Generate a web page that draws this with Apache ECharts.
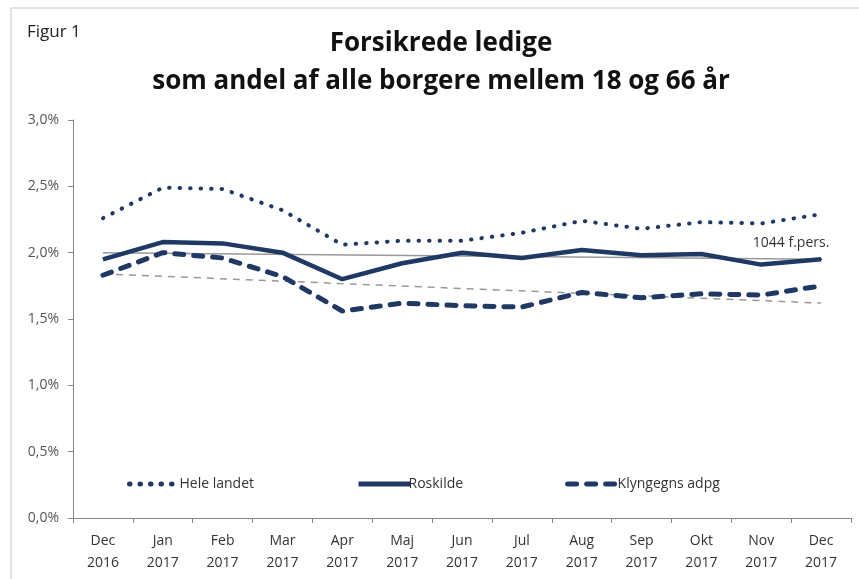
<!doctype html>
<html lang="da">
<head>
    <meta charset="UTF-8">
    <title>Figur 1</title>
    <style>
        html, body { margin: 0; padding: 0; background: #fff; }
    </style>
</head>
<body>
    <div id="main" style="width: 859px;height:579px;"></div>
    <script src="https://cdn.jsdelivr.net/npm/echarts@6/dist/echarts.min.js"></script>
    <script>
        // kategorier (måneder)
        var months = ['Dec\n2016', 'Jan\n2017', 'Feb\n2017', 'Mar\n2017', 'Apr\n2017', 'Maj\n2017', 'Jun\n2017',
            'Jul\n2017', 'Aug\n2017', 'Sep\n2017', 'Okt\n2017', 'Nov\n2017', 'Dec\n2017'];

        // andel i procent
        var heleLandet = [2.26, 2.49, 2.48, 2.32, 2.06, 2.09, 2.09, 2.15, 2.24, 2.18, 2.23, 2.22, 2.29];
        var roskilde = [1.95, 2.08, 2.07, 2.00, 1.80, 1.92, 2.00, 1.96, 2.02, 1.98, 1.99, 1.91, 1.95];
        var klynge = [1.83, 2.00, 1.96, 1.82, 1.56, 1.62, 1.60, 1.59, 1.70, 1.66, 1.69, 1.68, 1.75];

        // tendenslinjer (start og slut)
        var trendRoskilde = [2.00, 1.95];
        var trendKlynge = [1.84, 1.62];

        var yTicks = [0, 0.5, 1.0, 1.5, 2.0, 2.5, 3.0];

        function trend(ends) {
            var d = months.map(function () { return null; });
            d[0] = ends[0];
            d[d.length - 1] = ends[1];
            return d;
        }

        var navy = '#1f3864';
        var font = '"Open Sans", "Noto Sans", sans-serif';

        var roskildeData = roskilde.map(function (v, i) {
            if (i === roskilde.length - 1) {
                return {
                    value: v,
                    symbol: 'circle',
                    symbolSize: 2,
                    label: {
                        show: true, position: 'top', offset: [-30, -3],
                        formatter: '1044 f.pers.', color: '#333', fontSize: 14, fontFamily: font
                    }
                };
            }
            return v;
        });

        var myChart = echarts.init(document.getElementById('main'));

        var option = {
            backgroundColor: '#fff',
            animation: false,
            textStyle: { fontFamily: font },
            graphic: [
                {
                    type: 'rect', shape: { x: 11, y: 8, width: 860, height: 590 },
                    style: { fill: 'none', stroke: '#c8c8c8', lineWidth: 1 }
                },
                {
                    type: 'text', x: 27, y: 24,
                    style: { text: 'Figur 1', font: '17px ' + font, fill: '#222' }
                },
                {
                    type: 'text', x: 441, y: 44,
                    style: {
                        text: 'Forsikrede ledige', font: 'bold 26px ' + font, fill: '#111',
                        align: 'center', verticalAlign: 'middle'
                    }
                },
                {
                    type: 'text', x: 441, y: 82,
                    style: {
                        text: 'som andel af alle borgere mellem 18 og 66 år', font: 'bold 26px ' + font, fill: '#111',
                        align: 'center', verticalAlign: 'middle'
                    }
                }
            ],
            legend: {
                left: 122,
                top: 472,
                itemWidth: 52,
                itemHeight: 14,
                itemGap: 102,
                itemStyle: { opacity: 0 },
                lineStyle: { width: 5 },
                textStyle: { fontSize: 14, color: '#333', padding: [0, 0, 0, -7] },
                data: ['Hele landet', 'Roskilde', 'Klyngegns adpg']
            },
            grid: { left: 73, right: 8, top: 120, bottom: 61, containLabel: false },
            xAxis: {
                type: 'category',
                data: months,
                boundaryGap: true,
                axisLine: { lineStyle: { color: '#868686' } },
                axisTick: { show: true, length: 5, lineStyle: { color: '#868686' } },
                axisLabel: { color: '#333', fontSize: 14, lineHeight: 22, margin: 12, interval: 0 }
            },
            yAxis: {
                type: 'value',
                min: 0,
                max: 3,
                interval: 0.5,
                axisLine: { show: true, lineStyle: { color: '#868686' } },
                axisTick: { show: true, length: 5, lineStyle: { color: '#868686' } },
                splitLine: { show: false },
                axisLabel: {
                    color: '#555', fontSize: 14, margin: 14,
                    formatter: function (v) {
                        return yTicks.indexOf(v) >= 0 ? v.toFixed(1).replace('.', ',') + '%' : '';
                    }
                }
            },
            series: [
                {
                    name: 'Tendens Roskilde', type: 'line', data: trend(trendRoskilde), connectNulls: true,
                    symbol: 'none', silent: true, z: 1,
                    lineStyle: { color: '#999', width: 1.5 }
                },
                {
                    name: 'Tendens Klynge', type: 'line', data: trend(trendKlynge), connectNulls: true,
                    symbol: 'none', silent: true, z: 1,
                    lineStyle: { color: '#999', width: 1.5, type: [7, 6] }
                },
                {
                    name: 'Hele landet', type: 'line', data: heleLandet, symbol: 'none', z: 3,
                    itemStyle: { color: navy },
                    lineStyle: { color: navy, width: 4, type: [0.5, 10], cap: 'round' }
                },
                {
                    name: 'Roskilde', type: 'line', data: roskildeData, symbol: 'none', z: 3,
                    itemStyle: { color: navy },
                    lineStyle: { color: navy, width: 4.5 }
                },
                {
                    name: 'Klyngegns adpg', type: 'line', data: klynge, symbol: 'none', z: 3,
                    itemStyle: { color: navy },
                    lineStyle: { color: navy, width: 5, type: [9, 10], cap: 'round' }
                }
            ]
        };

        myChart.setOption(option);
    </script>
</body>
</html>
